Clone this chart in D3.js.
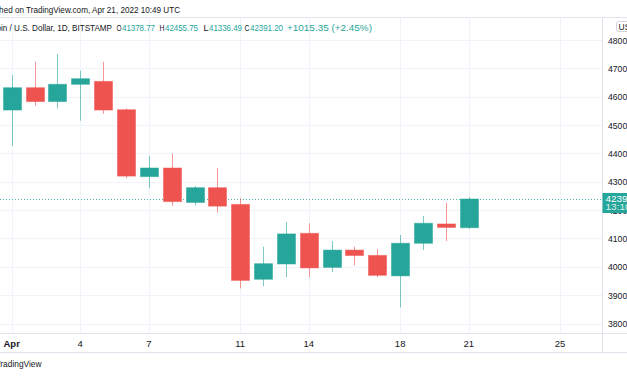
<!DOCTYPE html>
<html>
<head>
<meta charset="utf-8">
<script src="https://cdn.jsdelivr.net/npm/d3@7"></script>
<style>
  body { margin: 0; background: #fff; overflow: hidden; }
  text { font-family: "Liberation Sans", Arial, sans-serif; }
</style>
</head>
<body>
<svg id="chart" width="627" height="376"></svg>
<script>
//////////////////////////////////////////////////////////////////////////////
// Data: BTC/USD daily candles, April 2022

var days  = [1, 2, 3, 4, 5, 6, 7, 8, 9, 10, 11, 12, 13, 14, 15, 16, 17, 18, 19, 20, 21];
var open  = [45530, 46317, 45830, 46437, 46540, 45540, 43180, 43485, 42270, 42790, 42200,
             39560, 40100, 41180, 39980, 40590, 40400, 39680, 40830, 41510, 41378.77];
var high  = [46765, 47235, 47506, 46917, 47235, 45590, 43920, 44000, 42850, 43474, 42416,
             40710, 41580, 41535, 40910, 40710, 40630, 41120, 41790, 42260, 42455.75];
var low   = [44270, 45680, 45590, 45155, 45390, 43120, 42770, 42160, 42160, 41910, 39240,
             39320, 39630, 39630, 39810, 40050, 39620, 38570, 40590, 40910, 41336.49];
var close = [46317, 45830, 46437, 46635, 45530, 43200, 43485, 42300, 42790, 42140, 39520,
             40110, 41160, 39960, 40590, 40400, 39700, 40830, 41535, 41390, 42391.20];

var priceTicks = [38000, 39000, 40000, 41000, 42000, 43000, 44000, 45000, 46000, 47000, 48000];
var dayTicks   = [1, 4, 7, 11, 14, 18, 21, 25];
var dayLabels  = ["Apr", "4", "7", "11", "14", "18", "21", "25"];

var lastPrice = 42391.20;
var countdown = "13:10:53";

var legendTitle = "Bitcoin / U.S. Dollar, 1D, BITSTAMP";
var legendKeys   = ["O", "H", "L", "C"];
var legendValues = ["41378.77", "42455.75", "41336.49", "42391.20"];
var legendChange = "+1015.35 (+2.45%)";

//////////////////////////////////////////////////////////////////////////////
// Layout

var up = "#26a69a", down = "#ef5350", ink = "#131722";
var paneTop = 17.5, paneBottom = 333.5, axisBottom = 352.5, sepX = 602.5;

var xScale = d3.scaleUtc()
    .domain([new Date(Date.UTC(2022, 3, 1)), new Date(Date.UTC(2022, 3, 25))])
    .range([11.7, 560.1]);
function dx(d) { return xScale(new Date(Date.UTC(2022, 3, d))); }

var yScale = d3.scaleLinear().domain([38000, 48000]).range([323.5, 40]);

var candles = days.map(function(d, i) {
    return { day: d, o: open[i], h: high[i], l: low[i], c: close[i] };
});

var svg = d3.select("#chart");

function label(x, y, str, len, color) {
    var t = svg.append("text")
        .attr("x", x).attr("y", y)
        .attr("font-size", 9.5)
        .attr("fill", color || ink)
        .text(str);
    if (len) t.attr("textLength", len).attr("lengthAdjust", "spacingAndGlyphs");
    return t;
}

// header line
label(-23, 13, "Published on TradingView.com, Apr 21, 2022 10:49 UTC", 203);

// pane top border
svg.append("line").attr("x1", 0).attr("x2", 627).attr("y1", paneTop).attr("y2", paneTop)
    .attr("stroke", "#e0e3eb");

// grid
svg.append("g").selectAll("line")
    .data(priceTicks)
    .enter()
    .append("line")
    .attr("x1", 0).attr("x2", sepX)
    .attr("y1", function(d) { return Math.round(yScale(d)) + 0.5; })
    .attr("y2", function(d) { return Math.round(yScale(d)) + 0.5; })
    .attr("stroke", "#f0f3fa");

svg.append("g").selectAll("line")
    .data(dayTicks)
    .enter()
    .append("line")
    .attr("x1", function(d) { return Math.round(dx(d)) + 0.5; })
    .attr("x2", function(d) { return Math.round(dx(d)) + 0.5; })
    .attr("y1", paneTop).attr("y2", paneBottom)
    .attr("stroke", "#f0f3fa");

// last price dotted line
svg.append("line")
    .attr("x1", 0).attr("x2", sepX)
    .attr("y1", Math.round(yScale(lastPrice)) + 0.5)
    .attr("y2", Math.round(yScale(lastPrice)) + 0.5)
    .attr("stroke", up).attr("stroke-dasharray", "1,2").attr("opacity", 0.8);

// candles
var g = svg.append("g");
g.selectAll("line.wick")
    .data(candles)
    .enter()
    .append("line")
    .attr("class", "wick")
    .attr("x1", function(d) { return Math.round(dx(d.day)) + 0.5; })
    .attr("x2", function(d) { return Math.round(dx(d.day)) + 0.5; })
    .attr("y1", function(d) { return yScale(d.h); })
    .attr("y2", function(d) { return yScale(d.l); })
    .attr("stroke", function(d) { return d.c >= d.o ? up : down; })
    .attr("stroke-opacity", 0.6);

g.selectAll("rect")
    .data(candles)
    .enter()
    .append("rect")
    .attr("x", function(d) { return Math.round(dx(d.day)) - 8.5; })
    .attr("y", function(d) { return yScale(Math.max(d.o, d.c)); })
    .attr("width", 18)
    .attr("height", function(d) { return Math.max(1, yScale(Math.min(d.o, d.c)) - yScale(Math.max(d.o, d.c))); })
    .attr("fill", function(d) { return d.c >= d.o ? up : down; })
    .attr("stroke", function(d) { return d.c >= d.o ? up : down; })
    .attr("stroke-opacity", 0.5)
    .attr("stroke-width", 1);

// legend
label(-17, 31, legendTitle, 129);
var keyX = [116.5, 159.5, 203.5, 244.5];
legendKeys.forEach(function(k, i) {
    label(keyX[i], 31, k, 5);
    label(keyX[i] + 5.5, 31, legendValues[i], 33, up);
});
label(287, 31, legendChange, 85, up);

// right axis
svg.append("line").attr("x1", sepX).attr("x2", sepX).attr("y1", paneTop).attr("y2", axisBottom)
    .attr("stroke", "#e0e3eb");

svg.append("g").selectAll("text")
    .data(priceTicks)
    .enter()
    .append("text")
    .attr("x", 608)
    .attr("y", function(d) { return yScale(d) + 3.5; })
    .attr("font-size", 9.5).attr("fill", ink)
    .attr("textLength", 24).attr("lengthAdjust", "spacingAndGlyphs")
    .text(function(d) { return d3.format("d")(d); });

// currency tag
svg.append("rect").attr("x", 616.5).attr("y", 21.5).attr("width", 20).attr("height", 10)
    .attr("rx", 2).attr("fill", "#fff").attr("stroke", "#d1d4dc");
svg.append("text").attr("x", 618.5).attr("y", 29.5).attr("font-size", 8.5)
    .attr("fill", ink).text("USD");

// last price tag
var ly = yScale(lastPrice);
svg.append("rect").attr("x", sepX).attr("y", ly - 6).attr("width", 30).attr("height", 20)
    .attr("fill", up);
label(605.5, ly + 2.5, d3.format(".2f")(lastPrice), 41, "#fff");
label(605.5, ly + 11, countdown, 39, "#fff").attr("fill-opacity", 0.85);

// time axis
svg.append("line").attr("x1", 0).attr("x2", 627).attr("y1", paneBottom).attr("y2", paneBottom)
    .attr("stroke", "#e0e3eb");
svg.append("line").attr("x1", 0).attr("x2", 627).attr("y1", axisBottom).attr("y2", axisBottom)
    .attr("stroke", "#e0e3eb");

svg.append("g").selectAll("text")
    .data(dayTicks)
    .enter()
    .append("text")
    .attr("x", function(d) { return dx(d); })
    .attr("y", 346.5)
    .attr("text-anchor", "middle")
    .attr("font-size", 9.5)
    .attr("font-weight", function(d, i) { return i === 0 ? "bold" : "normal"; })
    .attr("fill", ink)
    .text(function(d, i) { return dayLabels[i]; });

label(-4.5, 367, "TradingView", 46);
</script>
</body>
</html>
